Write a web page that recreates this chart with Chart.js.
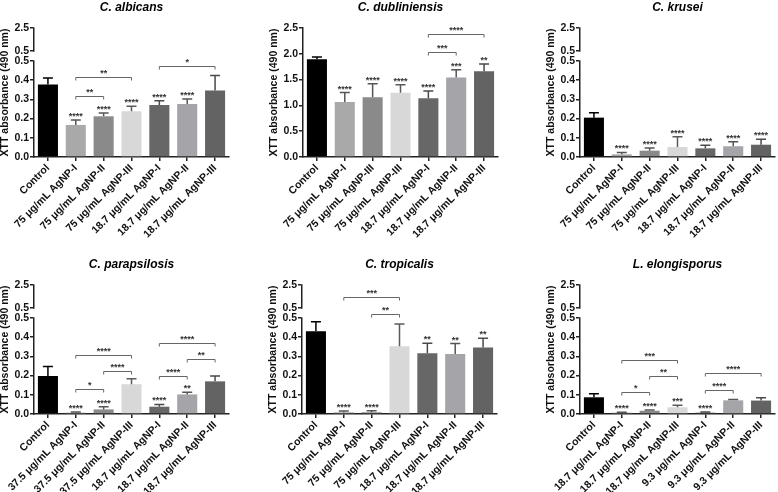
<!DOCTYPE html>
<html>
<head>
<meta charset="utf-8">
<script src="https://cdn.jsdelivr.net/npm/chart.js@4.4.1/dist/chart.umd.min.js"></script>
<style>
  body { margin: 0; width: 778px; height: 492px; overflow: hidden; background: #fff; position: relative; }
  canvas { position: absolute; }
</style>
</head>
<body>
<canvas id="c1" width="240" height="257" style="left:-2px;top:0px"></canvas>
<canvas id="c2" width="240" height="257" style="left:267px;top:0px"></canvas>
<canvas id="c3" width="240" height="257" style="left:544px;top:0px"></canvas>
<canvas id="c4" width="240" height="257" style="left:-2px;top:257px"></canvas>
<canvas id="c5" width="240" height="257" style="left:266px;top:257px"></canvas>
<canvas id="c6" width="240" height="257" style="left:544px;top:257px"></canvas>
<script>
// categorias (eixo x)
const labels75 = ['Control', '75 μg/mL AgNP-I', '75 μg/mL AgNP-II', '75 μg/mL AgNP-III', '18.7 μg/mL AgNP-I', '18.7 μg/mL AgNP-II', '18.7 μg/mL AgNP-III'];
const labelsDub = ['Control', '75 μg/mL AgNP-I', '75 μg/mL AgNP-III', '75 μg/mL AgNP-III', '18.7 μg/mL AgNP-I', '18.7 μg/mL AgNP-II', '18.7 μg/mL AgNP-III'];
const labelsPara = ['Control', '37.5 μg/mL AgNP-I', '37.5 μg/mL AgNP-II', '37.5 μg/mL AgNP-III', '18.7 μg/mL AgNP-I', '18.7 μg/mL AgNP-II', '18.7 μg/mL AgNP-III'];
const labelsElong = ['Control', '18.7 μg/mL AgNP-I', '18.7 μg/mL AgNP-II', '18.7 μg/mL AgNP-III', '9.3 μg/mL AgNP-I', '9.3 μg/mL AgNP-II', '9.3 μg/mL AgNP-III'];

// ticks do eixo y
const ticksBroken = [0, 0.1, 0.2, 0.3, 0.4, 0.5, 0.5000001, 2.5];
const ticksFull = [0, 0.5, 1.0, 1.5, 2.0, 2.5];

// médias e desvios
const albicansMean = [0.378, 0.167, 0.212, 0.238, 0.271, 0.276, 0.347];
const albicansSd = [0.033, 0.026, 0.017, 0.026, 0.022, 0.026, 0.077];
const albicansStars = ['', '****', '****', '****', '****', '****', ''];
const albicansBrackets = [[1, 3, 0.418, '**'], [1, 2, 0.318, '**'], [4, 6, 0.476, '*']];

const dubMean = [1.896, 1.065, 1.156, 1.245, 1.14, 1.54, 1.66];
const dubSd = [0.044, 0.185, 0.264, 0.155, 0.14, 0.15, 0.14];
const dubStars = ['', '****', '****', '****', '****', '***', '**'];
const dubBrackets = [[4, 6, 2.38, '****'], [4, 5, 2.04, '***']];

const kruseiMean = [0.205, 0.014, 0.033, 0.052, 0.045, 0.056, 0.064];
const kruseiSd = [0.026, 0.01, 0.014, 0.054, 0.016, 0.024, 0.028];
const kruseiStars = ['', '****', '****', '****', '****', '****', '****'];
const kruseiBrackets = [];

const paraMean = [0.198, 0.007, 0.024, 0.155, 0.038, 0.102, 0.17];
const paraSd = [0.049, 0.003, 0.014, 0.029, 0.012, 0.011, 0.028];
const paraStars = ['', '****', '****', '', '****', '**', ''];
const paraBrackets = [[1, 3, 0.307, '****'], [1, 2, 0.128, '*'], [2, 3, 0.226, '****'], [4, 6, 0.372, '****'], [5, 6, 0.286, '**'], [4, 5, 0.198, '****']];

const tropMean = [0.431, 0.009, 0.009, 0.353, 0.317, 0.313, 0.346];
const tropSd = [0.05, 0.007, 0.008, 0.116, 0.051, 0.054, 0.048];
const tropStars = ['', '****', '****', '', '**', '**', '**'];
const tropBrackets = [[1, 3, 0.611, '***'], [2, 3, 0.521, '**']];

const elongMean = [0.087, 0.007, 0.017, 0.035, 0.007, 0.071, 0.07];
const elongSd = [0.018, 0.002, 0.004, 0.01, 0.003, 0.004, 0.014];
const elongStars = ['', '****', '****', '***', '****', '', ''];
const elongBrackets = [[1, 3, 0.28, '***'], [2, 3, 0.197, '**'], [1, 2, 0.117, '*'], [4, 6, 0.216, '****'], [4, 5, 0.125, '****']];

// cores
const barColors = ['#000000', '#a9a9a9', '#8a8a8a', '#d8d8d8', '#676767', '#a4a4a9', '#636363'];
const errColors = ['#000000', '#555555', '#555555', '#5a5a5a', '#4a4a4a', '#555555', '#4a4a4a'];

const fontFamily = "'Liberation Sans', Arial, sans-serif";
Chart.defaults.font.family = fontFamily;
Chart.defaults.color = '#111';

// eixo y quebrado: 0-0.5 embaixo, 0.5-2.5 num pedaço pequeno em cima
const BREAK = 0.5;
const TOP_LOW = 0.5000001;
class BrokenScale extends Chart.LinearScale {
    static id = 'broken';
    static defaults = {};
    getPixelForValue(v) {
        const upper = 23, gap = 10;
        const lowTop = this.top + upper + gap;
        if (v <= BREAK) return this.bottom - (v / BREAK) * (this.bottom - lowTop);
        return this.top + upper - (v - BREAK) / (this.max - BREAK) * upper;
    }
    drawBorder() {
        const ctx = this.ctx;
        const x = this._borderValue;
        const o = this.options.border;
        ctx.save();
        ctx.lineWidth = o.width;
        ctx.strokeStyle = o.color;
        ctx.beginPath();
        ctx.moveTo(x, this.getPixelForValue(this.max) - 0.75);
        ctx.lineTo(x, this.getPixelForValue(TOP_LOW) + 0.75);
        ctx.moveTo(x, this.getPixelForValue(BREAK) - 0.75);
        ctx.lineTo(x, this.getPixelForValue(0) + 0.75);
        ctx.stroke();
        ctx.restore();
    }
}
Chart.register(BrokenScale);

// barras de erro, asteriscos e colchetes de significância
function annotations(mean, sd, stars, brackets) {
    return {
        id: 'annotations',
        afterDatasetsDraw(chart) {
            const ctx = chart.ctx;
            const x = chart.scales.x;
            const y = chart.scales.y;
            const p0 = y.getPixelForValue(0);
            const p5 = y.getPixelForValue(0.5);
            const py = v => p0 - v / 0.5 * (p0 - p5);
            ctx.save();
            ctx.font = 'bold 9px ' + fontFamily;
            ctx.textAlign = 'center';
            ctx.textBaseline = 'alphabetic';
            mean.forEach((m, i) => {
                const cx = x.getPixelForValue(i);
                const top = py(m + sd[i]);
                ctx.strokeStyle = errColors[i];
                ctx.lineWidth = 1.5;
                ctx.beginPath();
                ctx.moveTo(cx, py(m));
                ctx.lineTo(cx, top);
                ctx.moveTo(cx - 5, top);
                ctx.lineTo(cx + 5, top);
                ctx.stroke();
                if (stars[i]) {
                    ctx.fillStyle = '#333';
                    ctx.fillText(stars[i], cx, top - 1);
                }
            });
            brackets.forEach(b => {
                const xa = x.getPixelForValue(b[0]);
                const xb = x.getPixelForValue(b[1]);
                const yy = Math.round(py(b[2])) + 0.5;
                ctx.strokeStyle = '#666';
                ctx.lineWidth = 1;
                ctx.beginPath();
                ctx.moveTo(xa, yy + 3);
                ctx.lineTo(xa, yy);
                ctx.lineTo(xb, yy);
                ctx.lineTo(xb, yy + 3);
                ctx.stroke();
                ctx.fillStyle = '#333';
                ctx.fillText(b[3], (xa + xb) / 2, yy - 2);
            });
            ctx.restore();
        }
    };
}

function drawPanel(id, title, labels, mean, sd, stars, brackets, broken) {
    const tickFont = { size: 10.5, weight: 'bold' };
    const yTicks = broken ? ticksBroken : ticksFull;
    new Chart(document.getElementById(id), {
        type: 'bar',
        data: {
            labels: labels,
            datasets: [{
                data: mean,
                backgroundColor: barColors,
                borderWidth: 0,
                barPercentage: 0.72,
                categoryPercentage: 1
            }]
        },
        options: {
            responsive: false,
            animation: false,
            events: [],
            layout: { padding: { top: 0, right: 9, bottom: 0, left: 0 } },
            plugins: {
                legend: { display: false },
                tooltip: { enabled: false },
                title: {
                    display: true,
                    text: title,
                    fullSize: false,
                    color: '#000',
                    font: { size: 12, weight: 'bold', style: 'italic' },
                    padding: { top: 0, bottom: 13.6 }
                }
            },
            scales: {
                x: {
                    afterFit: s => { s.height = 100; },
                    ticks: { autoSkip: false, minRotation: 45, maxRotation: 45, padding: 1, font: tickFont, color: '#111' },
                    grid: { drawOnChartArea: false, offset: false, tickLength: 4, color: '#222', lineWidth: 1.5 },
                    border: { color: '#222', width: 1.5 }
                },
                y: {
                    type: broken ? 'broken' : 'linear',
                    min: 0,
                    max: 2.5,
                    afterBuildTicks: s => { s.ticks = yTicks.map(v => ({ value: v })); },
                    afterFit: s => { s.width = 36; },
                    ticks: { autoSkip: false, padding: 1, font: tickFont, color: '#111', callback: v => v.toFixed(1) },
                    grid: { drawOnChartArea: false, tickLength: 4, color: '#222', lineWidth: 1.5 },
                    border: { color: '#222', width: 1.5 },
                    title: { display: true, text: 'XTT absorbance (490 nm)', color: '#111', font: tickFont, padding: { top: 1, bottom: 0 } }
                }
            }
        },
        plugins: [annotations(mean, sd, stars, brackets)]
    });
}

drawPanel('c1', 'C. albicans', labels75, albicansMean, albicansSd, albicansStars, albicansBrackets, true);
drawPanel('c2', 'C. dubliniensis', labelsDub, dubMean, dubSd, dubStars, dubBrackets, false);
drawPanel('c3', 'C. krusei', labels75, kruseiMean, kruseiSd, kruseiStars, kruseiBrackets, true);
drawPanel('c4', 'C. parapsilosis', labelsPara, paraMean, paraSd, paraStars, paraBrackets, true);
drawPanel('c5', 'C. tropicalis', labels75, tropMean, tropSd, tropStars, tropBrackets, true);
drawPanel('c6', 'L. elongisporus', labelsElong, elongMean, elongSd, elongStars, elongBrackets, true);
</script>
</body>
</html>
